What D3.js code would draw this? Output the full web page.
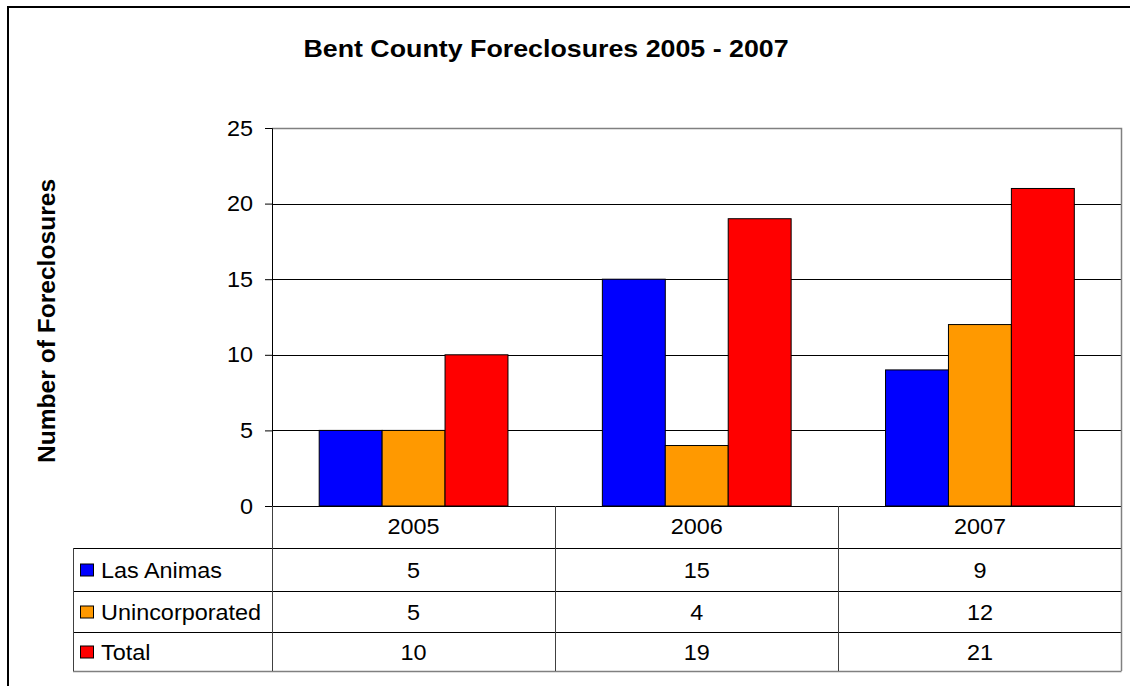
<!DOCTYPE html>
<html>
<head>
<meta charset="utf-8">
<script src="https://cdn.jsdelivr.net/npm/d3@7"></script>
<style>
  body { margin: 0; background: #fff; }
  svg { display: block; font-family: Arial, "Liberation Sans", sans-serif; }
</style>
</head>
<body>
<div id="vis"></div>
<script>
const WIDTH = 1130;
const HEIGHT = 686;

// chart data
const years = ["2005", "2006", "2007"];
const seriesNames = ["Las Animas", "Unincorporated", "Total"];
const lasAnimas = [5, 15, 9];
const unincorporated = [5, 4, 12];
const total = [10, 19, 21];
const yTicks = [0, 5, 10, 15, 20, 25];
const colours = ["#0000ff", "#ff9900", "#ff0000"];

const seriesValues = [lasAnimas, unincorporated, total];

// the old chart renders its fonts a little wide, so text is stretched horizontally
const FONT = 21.5;
const STRETCH = 1.09;

// plot area
const plot = { left: 272, right: 1121.5, top: 128, bottom: 506 };
// table rows under the plot
const rowH = [42, 43, 41, 39];
const tableLeft = 73;

const svg = d3.select("#vis").append("svg")
  .attr("width", WIDTH)
  .attr("height", HEIGHT);

// places a text at (x, y) with the horizontal stretch
function label(parent, x, y, txt, anchor) {
  return parent.append("text")
    .attr("transform", `translate(${x},${y}) scale(${STRETCH},1)`)
    .attr("text-anchor", anchor || "start")
    .style("font-size", FONT + "px")
    .attr("fill", "#000")
    .text(txt);
}

// outer chart border (runs off the bottom/right of the picture)
svg.append("rect")
  .attr("x", 8).attr("y", 7)
  .attr("width", 1140).attr("height", 700)
  .attr("fill", "#fff")
  .attr("stroke", "#000")
  .attr("stroke-width", 2);

// title
svg.append("text")
  .attr("transform", "translate(546,57) scale(1.14,1)")
  .attr("text-anchor", "middle")
  .style("font-size", "23.5px")
  .style("font-weight", "bold")
  .text("Bent County Foreclosures 2005 - 2007");

// y axis title
svg.append("text")
  .attr("transform", "translate(55,321) rotate(-90) scale(1.07,1)")
  .attr("text-anchor", "middle")
  .style("font-size", "23px")
  .style("font-weight", "bold")
  .text("Number of Foreclosures");

// scales
const x0 = d3.scaleBand()
  .domain(years)
  .range([plot.left, plot.right])
  .padding(0);

const x1 = d3.scaleBand()
  .domain(seriesNames)
  .range([0, x0.bandwidth()])
  .paddingInner(0)
  .paddingOuter(0.75);

const y = d3.scaleLinear()
  .domain([0, 25])
  .range([plot.bottom, plot.top]);

// gridlines
svg.append("g")
  .selectAll("line")
  .data(yTicks.filter(t => t > 0 && t < 25))
  .join("line")
  .attr("x1", plot.left).attr("x2", plot.right)
  .attr("y1", d => Math.round(y(d)) + 0.5)
  .attr("y2", d => Math.round(y(d)) + 0.5)
  .attr("stroke", "#000")
  .attr("stroke-width", 1);

// plot area border (top + right grey)
svg.append("path")
  .attr("d", `M${plot.left},${plot.top + 0.5}H${plot.right}V${plot.bottom}`)
  .attr("fill", "none")
  .attr("stroke", "#808080")
  .attr("stroke-width", 1.5);

// bars
const groups = svg.append("g")
  .selectAll("g")
  .data(years)
  .join("g")
  .attr("transform", d => `translate(${x0(d)},0)`);

groups.selectAll("rect")
  .data((d, i) => seriesNames.map((s, j) => ({ series: s, value: seriesValues[j][i], colour: colours[j] })))
  .join("rect")
  .attr("x", d => x1(d.series))
  .attr("y", d => y(d.value))
  .attr("width", x1.bandwidth())
  .attr("height", d => y(0) - y(d.value))
  .attr("fill", d => d.colour)
  .attr("stroke", "#000")
  .attr("stroke-width", 1);

// y axis, labels drawn separately so they can be stretched
const yAxis = d3.axisLeft(y)
  .tickValues(yTicks)
  .tickSize(7)
  .tickFormat("");

const yg = svg.append("g")
  .attr("transform", `translate(${plot.left},0)`)
  .call(yAxis);
yg.select(".domain").attr("stroke", "#000");
yg.selectAll(".tick line").attr("stroke", "#000");

yTicks.forEach(t => label(svg, plot.left - 19, y(t) + 7.5, t, "end"));

// x axis baseline
svg.append("line")
  .attr("x1", plot.left).attr("x2", plot.right)
  .attr("y1", plot.bottom + 0.5).attr("y2", plot.bottom + 0.5)
  .attr("stroke", "#000");

// data table
const rowTops = [plot.bottom];
rowH.forEach(h => rowTops.push(rowTops[rowTops.length - 1] + h));
const tableBottom = rowTops[rowTops.length - 1];

const table = svg.append("g");

// horizontal lines between rows
table.selectAll("line.h")
  .data(rowTops.slice(1, -1))
  .join("line")
  .attr("class", "h")
  .attr("x1", tableLeft).attr("x2", plot.right)
  .attr("y1", d => d + 0.5).attr("y2", d => d + 0.5)
  .attr("stroke", "#000");

// bottom line
table.append("line")
  .attr("x1", tableLeft).attr("x2", plot.right)
  .attr("y1", tableBottom + 0.5).attr("y2", tableBottom + 0.5)
  .attr("stroke", "#808080").attr("stroke-width", 1.5);

// left border of legend column
table.append("line")
  .attr("x1", tableLeft + 0.5).attr("x2", tableLeft + 0.5)
  .attr("y1", rowTops[1]).attr("y2", tableBottom)
  .attr("stroke", "#404040");

// column separators
table.selectAll("line.v")
  .data(years.map(d => x0(d)))
  .join("line")
  .attr("class", "v")
  .attr("x1", d => Math.round(d) + 0.5).attr("x2", d => Math.round(d) + 0.5)
  .attr("y1", plot.bottom).attr("y2", tableBottom)
  .attr("stroke", "#404040");

// right border
table.append("line")
  .attr("x1", plot.right).attr("x2", plot.right)
  .attr("y1", plot.bottom).attr("y2", tableBottom)
  .attr("stroke", "#808080").attr("stroke-width", 1.5);

// header labels
years.forEach(yr => {
  label(table, x0(yr) + x0.bandwidth() / 2, (rowTops[0] + rowTops[1]) / 2 + 7, yr, "middle");
});

// rows: legend key + name + values
seriesNames.forEach((s, j) => {
  const cy = (rowTops[j + 1] + rowTops[j + 2]) / 2;
  table.append("rect")
    .attr("x", 80.5).attr("y", cy - 5.5)
    .attr("width", 13).attr("height", 12)
    .attr("fill", colours[j])
    .attr("stroke", "#000");
  label(table, 101, cy + 8, s);
  seriesValues[j].forEach((v, i) => {
    label(table, x0(years[i]) + x0.bandwidth() / 2, cy + 8, v, "middle");
  });
});
</script>
</body>
</html>
